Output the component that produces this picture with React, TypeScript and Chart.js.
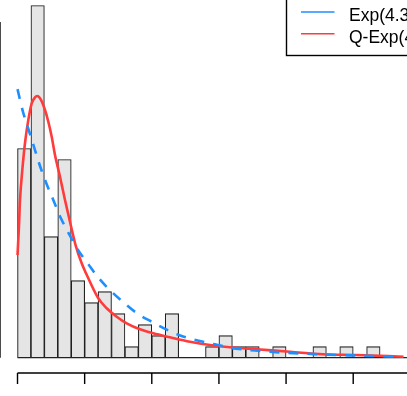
import React, { useEffect, useRef } from "react";
import { Chart, registerables } from "chart.js";

Chart.register(...registerables);

// Histogram breaks (bin edges) and counts per bin
const BREAKS = [
  0, 0.05, 0.1, 0.15, 0.2, 0.25, 0.3, 0.35, 0.4, 0.45, 0.5, 0.55, 0.6, 0.65, 0.7,
  0.75, 0.8, 0.85, 0.9, 0.95, 1.0, 1.05, 1.1, 1.15, 1.2, 1.25, 1.3, 1.35, 1.4, 1.45,
];
const COUNTS = [
  19, 32, 11, 18, 7, 5, 6, 4, 1, 3, 2, 4, 0, 0, 1, 2, 1, 1, 0, 1, 0, 0, 1, 0, 1, 0, 1, 0, 0,
];
const SAMPLE_SIZE = 122;

// Fitted exponential density (blue dashed)
const EXP_X = [
  0, 0.0205, 0.0402, 0.0622, 0.0838, 0.1087, 0.1333, 0.1593, 0.1906, 0.2252, 0.2606,
  0.299, 0.3399, 0.3917, 0.4449, 0.4996, 0.5555, 0.6191, 0.6832, 0.7465, 0.8135,
  0.8842, 0.9958, 1.1262, 1.2379, 1.4241,
];
const EXP_Y = [
  4.0, 3.66, 3.41, 3.13, 2.855, 2.583, 2.349, 2.096, 1.853, 1.604, 1.41, 1.202, 1.023,
  0.834, 0.661, 0.536, 0.417, 0.313, 0.244, 0.189, 0.135, 0.108, 0.074, 0.05, 0.034,
  0.016,
];

// Fitted q-exponential density (red)
const QEXP_X = [
  0, 0.0056, 0.0093, 0.0179, 0.0279, 0.0402, 0.0529, 0.0652, 0.0737, 0.0864, 0.1024,
  0.1147, 0.1273, 0.1396, 0.1582, 0.1768, 0.1981, 0.2178, 0.239, 0.2636, 0.3008,
  0.3321, 0.3693, 0.4066, 0.4561, 0.5056, 0.5677, 0.6422, 0.7167, 0.7911, 0.8905,
  1.0145, 1.1374, 1.2628, 1.4375,
];
const QEXP_Y = [
  1.53, 1.976, 2.349, 2.796, 3.198, 3.54, 3.789, 3.878, 3.898, 3.849, 3.689, 3.515,
  3.292, 3.019, 2.696, 2.349, 1.976, 1.653, 1.406, 1.183, 0.885, 0.736, 0.611, 0.512,
  0.423, 0.363, 0.304, 0.238, 0.189, 0.155, 0.125, 0.089, 0.051, 0.04, 0.015,
];

const X_TICKS = [0, 0.25, 0.5, 0.75, 1.0, 1.25, 1.5];
const Y_TICKS = [0, 1, 2, 3, 4, 5];
const LEGEND_LABELS = ["Exp(4.31)", "Q-Exp(4.87, 1.19)"];
const LEGEND_COLORS = ["#1e8fff", "#ff3b3b"];

const X_MIN = -0.0652;
const X_MAX = 1.562;
const Y_MIN = -0.228;
const Y_MAX = 5.328;

const rPlotDecor = {
  id: "rPlotDecor",
  afterDatasetDraw(chart: any, args: any) {
    if (args.index !== 0) return;
    const { ctx, scales } = chart;
    const x = scales.x;
    const y = scales.y;
    const y0 = y.getPixelForValue(0);
    ctx.save();
    ctx.strokeStyle = "#222";
    ctx.lineWidth = 1.3;
    ctx.beginPath();
    ctx.moveTo(x.getPixelForValue(BREAKS[0]), y0);
    ctx.lineTo(x.getPixelForValue(BREAKS[BREAKS.length - 1]), y0);
    ctx.stroke();
    ctx.restore();
  },
  afterDraw(chart: any) {
    const { ctx, scales, chartArea } = chart;
    const x = scales.x;
    const y = scales.y;
    ctx.save();
    ctx.strokeStyle = "#000";
    ctx.fillStyle = "#000";
    ctx.lineWidth = 1.4;
    ctx.font = '17.5px "Liberation Sans", Arial, sans-serif';

    // x axis
    const ay = chartArea.bottom;
    ctx.beginPath();
    ctx.moveTo(x.getPixelForValue(X_TICKS[0]), ay);
    ctx.lineTo(x.getPixelForValue(X_TICKS[X_TICKS.length - 1]), ay);
    for (const t of X_TICKS) {
      const px = x.getPixelForValue(t);
      ctx.moveTo(px, ay);
      ctx.lineTo(px, ay + 11);
    }
    ctx.stroke();
    ctx.textAlign = "center";
    ctx.textBaseline = "top";
    for (const t of X_TICKS) {
      ctx.fillText(t.toFixed(2), x.getPixelForValue(t), ay + 30);
    }

    // y axis
    const ax = chartArea.left;
    ctx.beginPath();
    ctx.moveTo(ax, y.getPixelForValue(Y_TICKS[0]));
    ctx.lineTo(ax, y.getPixelForValue(Y_TICKS[Y_TICKS.length - 1]));
    for (const t of Y_TICKS) {
      const py = y.getPixelForValue(t);
      ctx.moveTo(ax, py);
      ctx.lineTo(ax - 11, py);
    }
    ctx.stroke();
    ctx.textAlign = "right";
    ctx.textBaseline = "middle";
    for (const t of Y_TICKS) {
      ctx.fillText(String(t), ax - 16, y.getPixelForValue(t));
    }

    // legend (top right)
    ctx.lineWidth = 1.4;
    ctx.strokeStyle = "#000";
    ctx.strokeRect(286.5, -20, 400, 75.5);
    const rows = [12, 33.8];
    ctx.textAlign = "left";
    ctx.textBaseline = "alphabetic";
    LEGEND_LABELS.forEach((label, i) => {
      ctx.strokeStyle = LEGEND_COLORS[i];
      ctx.beginPath();
      ctx.moveTo(301, rows[i]);
      ctx.lineTo(334.5, rows[i]);
      ctx.stroke();
      ctx.fillStyle = "#000";
      ctx.fillText(label, 349, rows[i] + 8.7);
    });
    ctx.restore();
  },
};

export default function App() {
  const ref = useRef<HTMLCanvasElement>(null);

  useEffect(() => {
    const canvas = ref.current;
    if (!canvas) return;
    const histData = COUNTS.map((c, i) => ({
      x: (BREAKS[i] + BREAKS[i + 1]) / 2,
      y: c / (SAMPLE_SIZE * (BREAKS[i + 1] - BREAKS[i])),
    }));
    const expData = EXP_X.map((v, i) => ({ x: v, y: EXP_Y[i] }));
    const qexpData = QEXP_X.map((v, i) => ({ x: v, y: QEXP_Y[i] }));

    const chart = new Chart(canvas, {
      type: "bar",
      data: {
        datasets: [
          {
            type: "bar",
            data: histData,
            backgroundColor: "#e5e5e5",
            borderColor: "#1e1e1e",
            borderWidth: 1.1,
            borderSkipped: "start",
            barPercentage: 1,
            categoryPercentage: 1,
            order: 3,
          } as any,
          {
            type: "line",
            data: qexpData,
            borderColor: LEGEND_COLORS[1],
            borderWidth: 2.6,
            pointRadius: 0,
            cubicInterpolationMode: "monotone",
            fill: false,
            order: 2,
          } as any,
          {
            type: "line",
            data: expData,
            borderColor: LEGEND_COLORS[0],
            borderWidth: 2.6,
            borderDash: [10, 9],
            pointRadius: 0,
            cubicInterpolationMode: "monotone",
            fill: false,
            order: 1,
          } as any,
        ],
      },
      options: {
        responsive: false,
        animation: false,
        devicePixelRatio: 1,
        layout: { padding: { left: 0, right: 0, top: 0, bottom: 47 } },
        plugins: { legend: { display: false }, tooltip: { enabled: false } },
        scales: {
          x: { type: "linear", min: X_MIN, max: X_MAX, offset: false, display: false },
          y: { type: "linear", min: Y_MIN, max: Y_MAX, display: false },
        },
      } as any,
      plugins: [rPlotDecor],
    });
    return () => chart.destroy();
  }, []);

  return (
    <div
      style={{
        position: "fixed",
        left: 0,
        top: 0,
        width: 407,
        height: 396,
        overflow: "hidden",
        background: "#fff",
      }}
    >
      <canvas
        ref={ref}
        width={437}
        height={420}
        style={{ position: "absolute", left: 0, top: 0, display: "block" }}
      />
    </div>
  );
}
